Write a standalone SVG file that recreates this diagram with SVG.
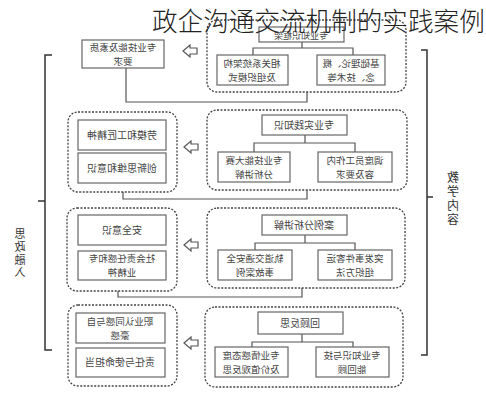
<svg xmlns="http://www.w3.org/2000/svg" width="486" height="400" viewBox="0 0 486 400">
<style>
text{font-family:"Noto Sans CJK SC","Liberation Sans",sans-serif;fill:#444;}
.t{font-size:10px;text-anchor:middle;}
.t2{font-size:9.5px;text-anchor:middle;}
.title{font-size:25.6px;fill:#222;font-weight:300;}
.v{font-size:11px;text-anchor:middle;fill:#333;writing-mode:vertical-rl;letter-spacing:1.7px;}
.box{fill:#fff;stroke:#666;stroke-width:1.2;}
.grp{fill:none;stroke:#444;stroke-width:1.3;stroke-dasharray:2 1.5;}
.ln{fill:none;stroke:#555;stroke-width:1.2;}
.br{fill:none;stroke:#333;stroke-width:1.5;}
.arr{fill:#fff;stroke:#555;stroke-width:1.2;}
</style>
<rect width="486" height="400" fill="#fff"/>

<g id="connectors">
<path class="ln" d="M126,68 V102 H307 V92"/>
<path class="ln" d="M123,192 V199 H307 V190"/>
<path class="ln" d="M118,291 V297 H302 V288"/>
<path class="ln" d="M302,42 V48 M253,55 V48 H353 V55"/>
<path class="ln" d="M305,135 V143 M254,152 V143 H355 V152"/>
<path class="ln" d="M305,235 V243 M255,250 V243 H355 V250"/>
<path class="ln" d="M302,334 V342 M252,347 V342 H353 V347"/>
<path class="arr" d="M183,51 L190,45 V48 H197 V54 H190 V57 Z"/>
<path class="arr" d="M184,147 L191,141 V144 H198 V150 H191 V153 Z"/>
<path class="arr" d="M184,245 L191,239 V242 H198 V248 H191 V251 Z"/>
<path class="arr" d="M184,343 L191,337 V340 H198 V346 H191 V349 Z"/>
</g>

<g id="bracket-left">
<path class="br" d="M52,55 H45 V350 H52 M45,201 H38"/>
<g transform="scale(-1,1)">
<text class="v" x="-20" y="254">思政融入</text>
</g>
</g>
<g id="bracket-right">
<path class="br" d="M421,50 H427 V355 H421 M427,197 H433"/>
<g transform="scale(-1,1)">
<text class="v" style="font-size:12px;letter-spacing:2px" x="-453" y="199">教学内容</text>
</g>
</g>

<g id="R1">
<rect class="grp" x="207" y="20" width="199" height="72" rx="10"/>
<rect class="box" x="259" y="27" width="85" height="15"/>
<rect class="box" x="217" y="55" width="71" height="30"/>
<rect class="box" x="317" y="55" width="68" height="30"/>
<g transform="scale(-1,1)">
<text class="t" x="-301" y="39" style="font-size:9px">专业知识框架</text>
<text class="t2" x="-252" y="66.5">相关系统架构</text>
<text class="t2" x="-252" y="80.5">及组织模式</text>
<text class="t2" x="-351" y="66.5">基础理论、概</text>
<text class="t2" x="-351" y="80.5">念、技术等</text>
</g>
</g>

<g id="title"><text class="title" x="152" y="31">政企沟通交流机制的实践案例</text></g>

<g id="L1">
<rect class="box" x="82" y="40" width="82" height="28"/>
<g transform="scale(-1,1)">
<text class="t2" x="-123" y="50.5">专业技能及素质</text>
<text class="t2" x="-123" y="64.5">要求</text>
</g>
</g>

<g id="R2">
<rect class="grp" x="207" y="110" width="200" height="80" rx="10"/>
<rect class="box" x="262" y="115" width="85" height="20"/>
<rect class="box" x="218" y="152" width="72" height="30"/>
<rect class="box" x="318" y="152" width="74" height="30"/>
<g transform="scale(-1,1)">
<text class="t" x="-304" y="129">专业实践知识</text>
<text class="t2" x="-254" y="163.5">专业技能大赛</text>
<text class="t2" x="-254" y="177.5">分析讲解</text>
<text class="t2" x="-355" y="163.5">调度员工作内</text>
<text class="t2" x="-355" y="177.5">容及要求</text>
</g>
</g>

<g id="L2">
<rect class="grp" x="68" y="112" width="109" height="80" rx="10"/>
<rect class="box" x="78" y="120" width="88" height="30"/>
<rect class="box" x="78" y="153" width="88" height="30"/>
<g transform="scale(-1,1)">
<text class="t" x="-122" y="139">劳模和工匠精神</text>
<text class="t" x="-122" y="172">创新思维和意识</text>
</g>
</g>

<g id="R3">
<rect class="grp" x="207" y="208" width="198" height="80" rx="10"/>
<rect class="box" x="262" y="215" width="85" height="20"/>
<rect class="box" x="218" y="250" width="74" height="30"/>
<rect class="box" x="318" y="250" width="74" height="30"/>
<g transform="scale(-1,1)">
<text class="t" x="-304" y="229">案例分析讲解</text>
<text class="t2" x="-255" y="261.5">轨道交通安全</text>
<text class="t2" x="-255" y="275.5">事故案例</text>
<text class="t2" x="-355" y="261.5">突发事件客运</text>
<text class="t2" x="-355" y="275.5">组织方法</text>
</g>
</g>

<g id="L3">
<rect class="grp" x="67" y="208" width="110" height="83" rx="10"/>
<rect class="box" x="78" y="215" width="88" height="30"/>
<rect class="box" x="78" y="251" width="88" height="29"/>
<g transform="scale(-1,1)">
<text class="t" x="-122" y="234">安全意识</text>
<text class="t2" x="-122" y="262">社会责任感和专</text>
<text class="t2" x="-122" y="276">业精神</text>
</g>
</g>

<g id="R4">
<rect class="grp" x="205" y="307" width="198" height="80" rx="10"/>
<rect class="box" x="258" y="312" width="85" height="22"/>
<rect class="box" x="215" y="347" width="73" height="30"/>
<rect class="box" x="316" y="347" width="73" height="30"/>
<g transform="scale(-1,1)">
<text class="t" x="-300" y="327">回顾反思</text>
<text class="t2" x="-251" y="358.5">专业情感态度</text>
<text class="t2" x="-251" y="372.5">及价值观反思</text>
<text class="t2" x="-352" y="358.5">专业知识与技</text>
<text class="t2" x="-352" y="372.5">能回顾</text>
</g>
</g>

<g id="L4">
<rect class="grp" x="68" y="305" width="109" height="81" rx="10"/>
<rect class="box" x="76" y="313" width="89" height="30"/>
<rect class="box" x="76" y="348" width="89" height="29"/>
<g transform="scale(-1,1)">
<text class="t2" x="-120" y="324.5">职业认同感与自</text>
<text class="t2" x="-120" y="338.5">豪感</text>
<text class="t" x="-120" y="366">责任与使命担当</text>
</g>
</g>
</svg>
